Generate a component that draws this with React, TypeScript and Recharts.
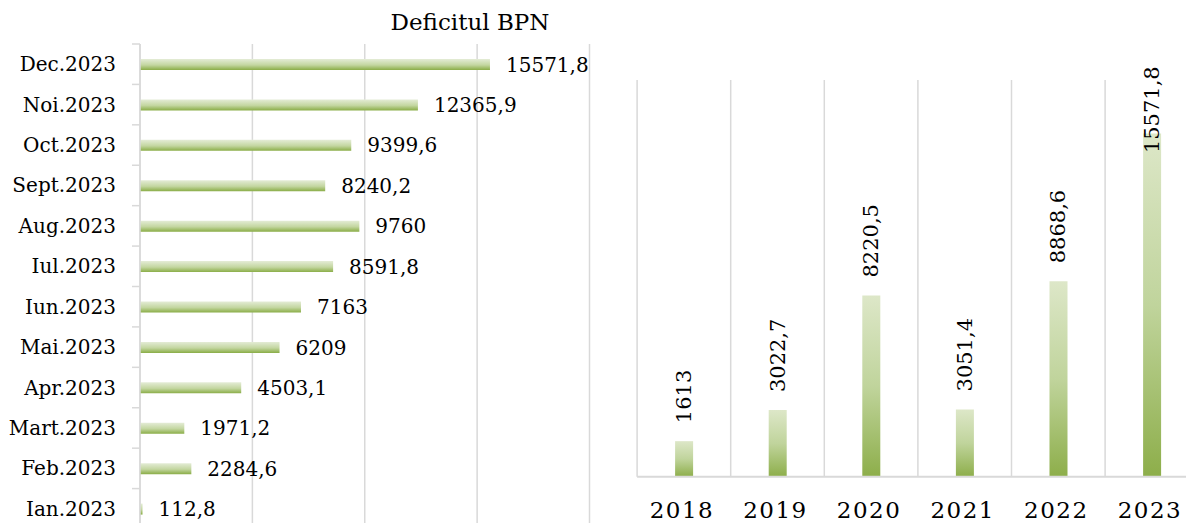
import { Bar, BarChart, CartesianGrid, LabelList, XAxis, YAxis } from 'recharts'

const months = ['Ian.2023', 'Feb.2023', 'Mart.2023', 'Apr.2023', 'Mai.2023', 'Iun.2023', 'Iul.2023', 'Aug.2023', 'Sept.2023', 'Oct.2023', 'Noi.2023', 'Dec.2023']
const monthly = [112.8, 2284.6, 1971.2, 4503.1, 6209, 7163, 8591.8, 9760, 8240.2, 9399.6, 12365.9, 15571.8]
const xTicks = [0, 5000, 10000, 15000, 20000]

const years = ['2018', '2019', '2020', '2021', '2022', '2023']
const yearly = [1613, 3022.7, 8220.5, 3051.4, 8868.6, 15571.8]

const monthData = months.map((name, i) => ({ name, v: monthly[i] }))
const yearData = years.map((name, i) => ({ name, v: yearly[i] }))

const FONT = '"DejaVu Serif", serif'
const GRID = '#d9d9d9'
const fmt = (v: number) => String(v).replace('.', ',')

const L_H = 540
const L_MARGIN = { top: 44, right: 10.5, bottom: 11, left: 0 }
const BAND = (L_H - L_MARGIN.top - L_MARGIN.bottom) / months.length

function MonthTick({ x, y, payload }: any) {
  const top = y - BAND / 2
  return (
    <g>
      <line x1={x - 8} x2={x} y1={top} y2={top} stroke={GRID} strokeWidth={1.5} />
      <text x={x - 24} y={y} textAnchor="end" dominantBaseline="central" fontSize={20} fill="#000" fontFamily={FONT}>
        {payload.value}
      </text>
    </g>
  )
}

// tick y already sits a few px under the axis line
function YearTick({ x, y, payload }: any) {
  return (
    <text x={x - 2} y={y + 25} textAnchor="middle" dominantBaseline="central" fontSize={23} letterSpacing={1.5} fill="#000" fontFamily={FONT}>
      {payload.value}
    </text>
  )
}

function RotLabel({ x, y, width, value }: any) {
  const s = fmt(value)
  const cx = x + width / 2
  const len = s.length * 13.3
  let bottom = y - 18
  if (bottom - len < 60) bottom = 60 + len
  return (
    <text x={cx} y={bottom} transform={`rotate(-90, ${cx}, ${bottom})`} textAnchor="start" dominantBaseline="central" fontSize={21} fill="#000" fontFamily={FONT}>
      {s}
    </text>
  )
}

export default function App() {
  return (
    <div style={{ position: 'absolute', left: 0, top: 0, width: 1186, height: 523, overflow: 'hidden', background: '#fff', fontFamily: FONT }}>
      <div style={{ position: 'absolute', left: 0, top: 8, width: 940, textAlign: 'center', fontSize: 23, lineHeight: '28px', color: '#000' }}>
        Deficitul BPN
      </div>
      <div style={{ position: 'absolute', left: 0, top: 0 }}>
        <BarChart width={600} height={L_H} data={monthData} layout="vertical" margin={L_MARGIN} barSize={11}>
          <defs>
            <linearGradient id="gH" x1="0" y1="0" x2="0" y2="1">
              <stop offset="0%" stopColor="#e4ecd6" />
              <stop offset="55%" stopColor="#c3d6a0" />
              <stop offset="100%" stopColor="#8aad47" />
            </linearGradient>
          </defs>
          <CartesianGrid horizontal={false} stroke={GRID} strokeWidth={1.5} />
          <XAxis type="number" domain={[0, 20000]} ticks={xTicks} hide />
          <YAxis
            type="category"
            dataKey="name"
            reversed
            width={140}
            axisLine={{ stroke: GRID, strokeWidth: 1.5 }}
            tickLine={false}
            tickSize={0}
            tickMargin={0}
            tick={<MonthTick />}
            interval={0}
          />
          <Bar dataKey="v" fill="url(#gH)" isAnimationActive={false}>
            <LabelList dataKey="v" position="right" offset={16} formatter={(v: any) => fmt(v)} fontSize={20} fill="#000" fontFamily={FONT} />
          </Bar>
        </BarChart>
      </div>
      <div style={{ position: 'absolute', left: 600, top: 0 }}>
        <BarChart width={620} height={523} data={yearData} margin={{ top: 80, right: 21.3, bottom: 16.3, left: 37.1 }} barSize={18}>
          <defs>
            <linearGradient id="gV" x1="0" y1="0" x2="0" y2="1">
              <stop offset="0%" stopColor="#dde7c8" />
              <stop offset="50%" stopColor="#c0d49c" />
              <stop offset="100%" stopColor="#8dae4a" />
            </linearGradient>
          </defs>
          <CartesianGrid
            horizontal={false}
            stroke={GRID}
            strokeWidth={1.5}
            verticalCoordinatesGenerator={({ offset }: any) => years.map((_, i) => offset.left + (i * offset.width) / years.length).concat(offset.left + offset.width)}
          />
          <XAxis dataKey="name" height={30} axisLine={{ stroke: GRID, strokeWidth: 2 }} tickLine={false} tick={<YearTick />} interval={0} />
          <YAxis domain={[0, 18000]} hide />
          <Bar dataKey="v" fill="url(#gV)" isAnimationActive={false}>
            <LabelList dataKey="v" content={<RotLabel />} />
          </Bar>
        </BarChart>
      </div>
    </div>
  )
}
